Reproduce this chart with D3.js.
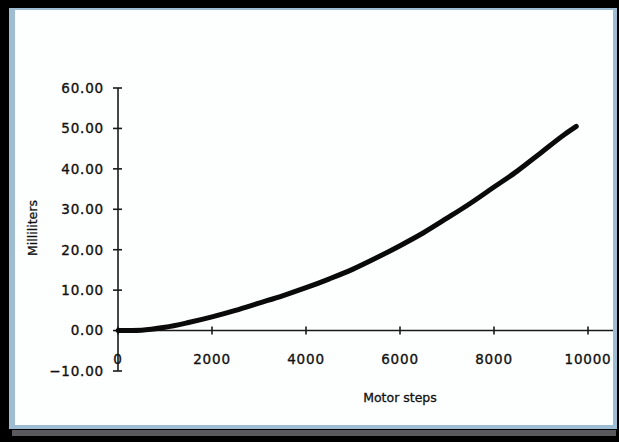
<!DOCTYPE html>
<html>
<head>
<meta charset="utf-8">
<script src="https://cdn.jsdelivr.net/npm/d3@7"></script>
<style>
  html, body { margin: 0; padding: 0; background: #000; }
  svg { display: block; }
  .tick-label { font-family: "DejaVu Sans", Arial, sans-serif; font-size: 13.5px; fill: #111; stroke: #111; stroke-width: 0.35px; letter-spacing: 0.8px; }
  .axis-title { font-family: "DejaVu Sans", Arial, sans-serif; font-size: 12.5px; fill: #111; stroke: #111; stroke-width: 0.3px; }
</style>
</head>
<body>
<div id="chart"></div>
<script>
// motor steps vs millilitres
const steps = [0, 500, 1000, 1500, 2000, 2500, 3000, 3500, 4000, 4500, 5000,
  5500, 6000, 6500, 7000, 7500, 8000, 8500, 9000, 9500, 9750];
const millilitres = [0, 0.1, 0.8, 2.0, 3.4, 5.0, 6.8, 8.6, 10.6, 12.8, 15.2,
  18.0, 21.0, 24.2, 27.8, 31.5, 35.5, 39.5, 44.0, 48.5, 50.5];
const xTicks = [0, 2000, 4000, 6000, 8000, 10000];
const yTicks = [-10, 0, 10, 20, 30, 40, 50, 60];

const width = 619, height = 442;

const svg = d3.select("#chart").append("svg")
  .attr("width", width)
  .attr("height", height);

// frame + shadow
svg.append("rect").attr("x", 12).attr("y", 430).attr("width", 604).attr("height", 6)
  .attr("fill", "#5a5a5e");
svg.append("rect").attr("x", 9).attr("y", 8).attr("width", 608).attr("height", 421)
  .attr("fill", "#9fbdd2");
svg.append("rect").attr("x", 15).attr("y", 10).attr("width", 598).attr("height", 415)
  .attr("fill", "#fdfefe");

const x = d3.scaleLinear().domain([0, 10000]).range([118, 588]);
const y = d3.scaleLinear().domain([-10, 60]).range([371, 88]);

const axisColor = "#1a1a1a";

// y axis line + crossing ticks
svg.append("line")
  .attr("x1", x(0)).attr("x2", x(0))
  .attr("y1", y(60)).attr("y2", y(-10))
  .attr("stroke", axisColor).attr("stroke-width", 1.6);
svg.selectAll(".ytick").data(yTicks).enter().append("line")
  .attr("x1", x(0) - 5).attr("x2", x(0) + 4)
  .attr("y1", d => y(d)).attr("y2", d => y(d))
  .attr("stroke", axisColor).attr("stroke-width", 1.6);
svg.selectAll(".ylab").data(yTicks).enter().append("text")
  .attr("class", "tick-label")
  .attr("x", 104)
  .attr("y", d => y(d))
  .attr("dy", "0.36em")
  .attr("text-anchor", "end")
  .text(d => d3.format(".2f")(d));

// x axis line (runs to the frame edge) + crossing ticks
svg.append("line")
  .attr("x1", x(0)).attr("x2", 613)
  .attr("y1", y(0)).attr("y2", y(0))
  .attr("stroke", axisColor).attr("stroke-width", 1.6);
svg.selectAll(".xtick").data(xTicks).enter().append("line")
  .attr("x1", d => x(d)).attr("x2", d => x(d))
  .attr("y1", y(0) - 4).attr("y2", y(0) + 4)
  .attr("stroke", axisColor).attr("stroke-width", 1.6);
svg.selectAll(".xlab").data(xTicks).enter().append("text")
  .attr("class", "tick-label")
  .attr("x", d => x(d))
  .attr("y", 364)
  .attr("text-anchor", "middle")
  .text(d => d);

// axis titles
svg.append("text").attr("class", "axis-title")
  .attr("transform", "translate(37,228) rotate(-90)")
  .attr("text-anchor", "middle")
  .text("Milliliters");
svg.append("text").attr("class", "axis-title")
  .attr("x", 400).attr("y", 402)
  .attr("text-anchor", "middle")
  .text("Motor steps");

// the curve
const data = steps.map((s, i) => ({ s: s, v: millilitres[i] }));
const line = d3.line()
  .x(d => x(d.s))
  .y(d => y(d.v))
  .curve(d3.curveMonotoneX);
svg.append("path")
  .datum(data)
  .attr("d", line)
  .attr("fill", "none")
  .attr("stroke", "#0a0a0a")
  .attr("stroke-width", 5)
  .attr("stroke-linecap", "round");
</script>
</body>
</html>
